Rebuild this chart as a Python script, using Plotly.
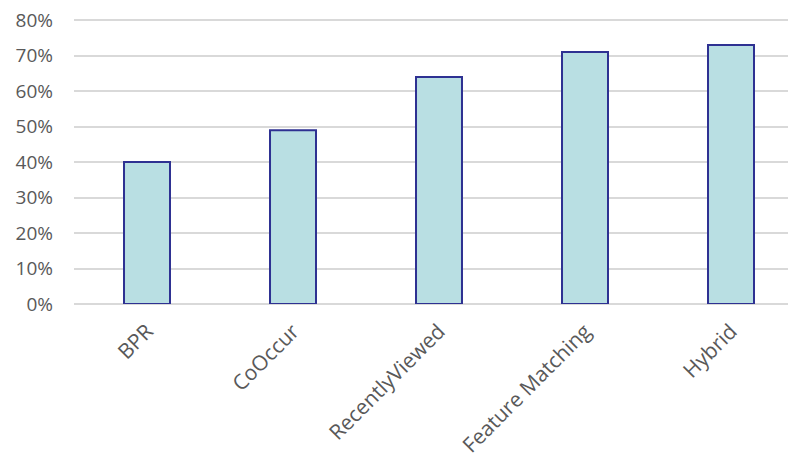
import plotly.graph_objects as go

categories = ["BPR", "CoOccur", "RecentlyViewed", "Feature Matching", "Hybrid"]
values = [0.40, 0.49, 0.64, 0.71, 0.73]
y_ticks = [0, 0.1, 0.2, 0.3, 0.4, 0.5, 0.6, 0.7, 0.8]
y_tick_labels = ["0%", "10%", "20%", "30%", "40%", "50%", "60%", "70%", "80%"]

fig = go.Figure(go.Bar(
    x=categories, y=values,
    marker=dict(color="#B9DFE3", line=dict(color="#2E3192", width=2)),
    hoverinfo="x+y",
))

# page body has an 8px default margin, so margins are reduced by 8px
fig.update_layout(
    width=796, height=459,
    margin=dict(l=66, r=0, t=10, b=163, autoexpand=False),
    paper_bgcolor="white", plot_bgcolor="white",
    bargap=0.685,
    font=dict(family="Open Sans, Lato, sans-serif", size=19, color="#595959"),
    showlegend=False,
)
fig.update_xaxes(
    range=[-0.5, 4.5], tickangle=-45, showgrid=False, showline=False,
    ticks="", automargin=False, ticklabelstandoff=10, ticklabeloverflow="allow",
    tickfont=dict(size=21, color="#595959"),
)
fig.update_yaxes(
    range=[0, 0.806], tickvals=y_ticks, ticktext=y_tick_labels,
    showgrid=True, gridcolor="#D9D9D9", gridwidth=1.5,
    zeroline=True, zerolinecolor="#D9D9D9", zerolinewidth=1.5,
    ticks="", automargin=False, ticklabelstandoff=20, ticklabeloverflow="allow",
    tickfont=dict(size=19, color="#595959"),
)

fig.write_html("out.html")
